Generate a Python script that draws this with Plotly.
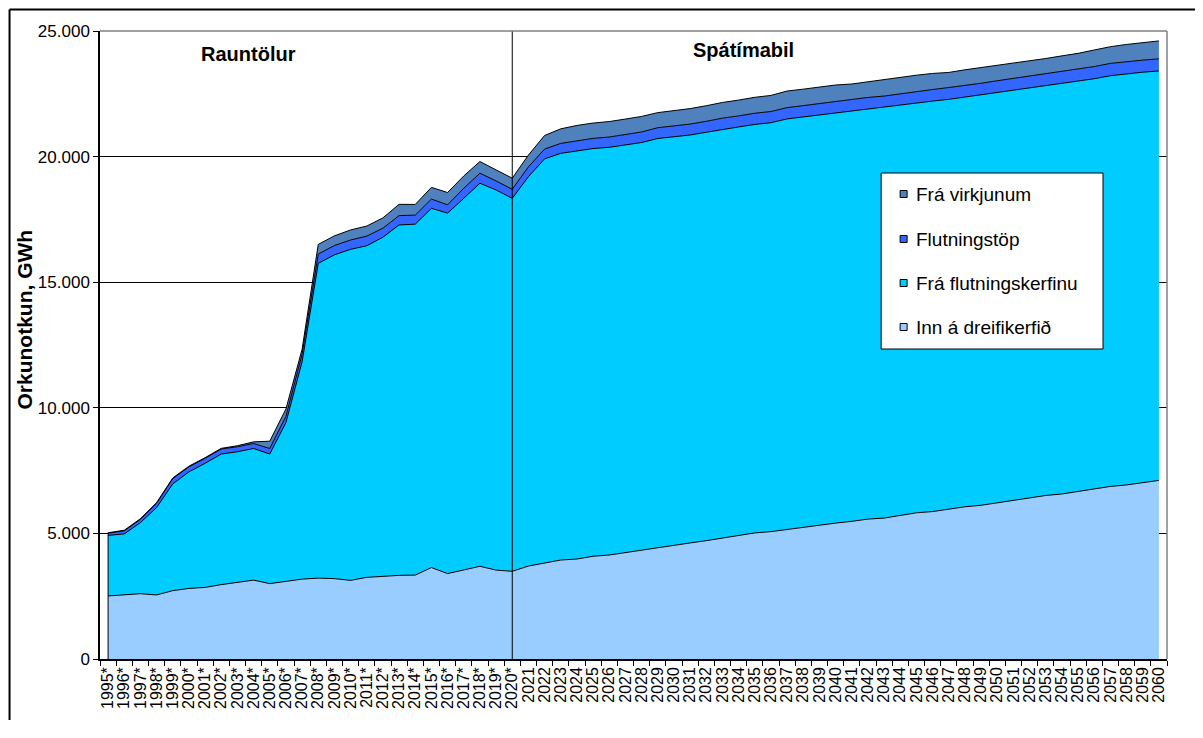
import plotly.graph_objects as go

# ---- data ----
years_actual = [f"{y}*" for y in range(1995, 2021)]
years_forecast = [str(y) for y in range(2021, 2061)]
categories = years_actual + years_forecast

inn_a_dreifikerfid = [
    2510, 2560, 2600, 2550, 2720, 2810, 2850, 2960, 3060, 3140, 3000, 3090, 3180,
    3220, 3200, 3130, 3250, 3290, 3330, 3340, 3640, 3400, 3560, 3690, 3540, 3490,
    3700, 3810, 3940, 3980, 4090, 4140, 4230, 4330, 4420, 4520, 4620, 4710, 4820,
    4920, 5020, 5070, 5160, 5230, 5320, 5410, 5480, 5570, 5610, 5720, 5820, 5870,
    5960, 6060, 6120, 6210, 6320, 6420, 6510, 6570, 6670, 6780, 6870, 6930, 7020, 7110]

fra_flutningskerfinu = [
    2410, 2420, 2830, 3480, 4250, 4640, 4940, 5200, 5190, 5240, 5160, 6320, 8650,
    12530, 12890, 13180, 13200, 13500, 13950, 13970, 14300, 14350, 14780, 15250, 15130, 14850,
    15500, 16100, 16190, 16260, 16230, 16230, 16230, 16230, 16300, 16270, 16240, 16260, 16270,
    16260, 16260, 16280, 16340, 16350, 16340, 16340, 16350, 16330, 16350, 16330, 16320, 16340,
    16320, 16310, 16350, 16350, 16330, 16320, 16320, 16340, 16310, 16320, 16350, 16370, 16340, 16300]

flutningstop = [
    90, 120, 130, 170, 210, 200, 200, 200, 200, 200, 220, 250, 300,
    370, 370, 370, 385, 360, 370, 360, 370, 330, 400, 400, 360, 360,
    390, 390, 395, 400, 405, 410, 415, 420, 430, 430, 435, 435, 440,
    440, 445, 445, 450, 450, 450, 455, 450, 455, 450, 455, 440, 460,
    470, 455, 450, 460, 465, 470, 475, 480, 490, 485, 490, 485, 480, 480]

fra_virkjunum = [
    15, 25, 25, 25, 25, 25, 25, 25, 40, 65, 290, 290, 200,
    385, 385, 400, 400, 410, 450, 425, 465, 490, 490, 465, 440, 440,
    470, 540, 580, 600, 610, 615, 620, 620, 600, 610, 615, 620, 625,
    630, 635, 640, 660, 655, 650, 645, 610, 630, 640, 640, 660, 640,
    600, 630, 620, 610, 600, 600, 600, 620, 640, 660, 665, 680, 700, 715]

series_names = ["Inn á dreifikerfið", "Frá flutningskerfinu", "Flutningstöp", "Frá virkjunum"]
series_values = [inn_a_dreifikerfid, fra_flutningskerfinu, flutningstop, fra_virkjunum]
series_colors = ["#99CCFF", "#00CCFF", "#3366FF", "#4F81BD"]

y_ticks = [0, 5000, 10000, 15000, 20000, 25000]
split_category = "2020*"

# ---- figure geometry (screen pixels; page body adds an 8px offset) ----
OFF = 8
W, H = 1203 - 2 * OFF, 738 - 2 * OFF - 10
PLOT_L, PLOT_R, PLOT_T, PLOT_B = 99.5, 1167, 31, 659  # screen coords
ML = PLOT_L - OFF
MT = PLOT_T - OFF
MR = W - (PLOT_R - OFF)
MB = H - (PLOT_B - OFF)
PW, PH = W - ML - MR, H - MT - MB
FONT = "Liberation Sans, Arial, sans-serif"
RIGHT_EDGE = OFF + W  # screen x of the figure's right edge


def px(xs):
    return (xs - PLOT_L) / PW


def py(ys):
    return (PLOT_B - ys) / PH


fig = go.Figure()
for name, vals, col in zip(series_names, series_values, series_colors):
    fig.add_trace(go.Scatter(
        x=categories, y=vals, name=name, mode="lines",
        stackgroup="one", fillcolor=col,
        line=dict(color="black", width=1),
        showlegend=False,
    ))

totals = [sum(v) for v in zip(*series_values)]

shapes = []
for idx in (0, len(categories) - 1):
    shapes.append(dict(type="line", xref="x", yref="y", x0=categories[idx], x1=categories[idx],
                       y0=0, y1=totals[idx], line=dict(color="black", width=1), layer="above"))
shapes.append(dict(type="line", xref="x", yref="y", x0=split_category, x1=split_category,
                   y0=0, y1=y_ticks[-1], line=dict(color="black", width=1), layer="above"))
shapes.append(dict(type="line", xref="paper", yref="paper", x0=0, x1=1, y0=1, y1=1,
                   line=dict(color="#808080", width=1.5)))
shapes.append(dict(type="line", xref="paper", yref="paper", x0=1, x1=1, y0=0, y1=1,
                   line=dict(color="#808080", width=1.5)))
# outer chart frame (left and top edges visible)
shapes.append(dict(type="line", xref="paper", yref="paper", x0=px(9), x1=px(9),
                   y0=py(OFF + H), y1=py(9.5), line=dict(color="black", width=2)))
shapes.append(dict(type="line", xref="paper", yref="paper", x0=px(9), x1=px(RIGHT_EDGE),
                   y0=py(9.5), y1=py(9.5), line=dict(color="black", width=2)))

# manual legend
leg_x0, leg_x1, leg_y0, leg_y1 = 881, 1103, 173, 349
shapes.append(dict(type="rect", xref="paper", yref="paper", x0=px(leg_x0), x1=px(leg_x1),
                   y0=py(leg_y1), y1=py(leg_y0), line=dict(color="black", width=1),
                   fillcolor="white", layer="above"))
legend_rows = [194, 239, 283, 327]
annotations = []
for yrow, name, col in zip(legend_rows, series_names[::-1], series_colors[::-1]):
    shapes.append(dict(type="rect", xref="paper", yref="paper", x0=px(900), x1=px(907),
                       y0=py(yrow + 3.5), y1=py(yrow - 3.5), line=dict(color="black", width=1),
                       fillcolor=col, layer="above"))
    annotations.append(dict(xref="paper", yref="paper", x=px(914), y=py(yrow), text=name,
                            showarrow=False, xanchor="left", yanchor="middle",
                            font=dict(family=FONT, size=19, color="black")))

annotations.append(dict(xref="paper", yref="paper", x=px(248), y=py(54), text="<b>Rauntölur</b>",
                        showarrow=False, xanchor="center", yanchor="middle",
                        font=dict(family=FONT, size=20, color="black")))
annotations.append(dict(xref="paper", yref="paper", x=px(743), y=py(50), text="<b>Spátímabil</b>",
                        showarrow=False, xanchor="center", yanchor="middle",
                        font=dict(family=FONT, size=20, color="black")))
annotations.append(dict(xref="paper", yref="paper", x=px(24), y=py(320), text="<b>Orkunotkun, GWh</b>",
                        showarrow=False, xanchor="center", yanchor="middle", textangle=-90,
                        font=dict(family=FONT, size=21, color="black")))

fig.update_layout(
    width=W, height=H,
    margin=dict(l=ML, r=MR, t=MT, b=MB, autoexpand=False),
    paper_bgcolor="white", plot_bgcolor="white",
    separators=",.",
    font=dict(family=FONT, color="black"),
    shapes=shapes, annotations=annotations,
    showlegend=False,
    xaxis=dict(
        type="category", categoryorder="array", categoryarray=categories,
        range=[-0.5, len(categories) - 0.5],
        tickmode="linear", dtick=1, tickson="boundaries",
        tickangle=-90, tickfont=dict(family=FONT, size=16, color="black"),
        ticks="outside", ticklen=5, tickcolor="black",
        showline=True, linecolor="black", linewidth=1.5,
        showgrid=False, zeroline=False,
    ),
    yaxis=dict(
        range=[0, y_ticks[-1]], tickmode="array", tickvals=y_ticks,
        tickformat=",d", tickfont=dict(family=FONT, size=17, color="black"),
        ticks="outside", ticklen=5, tickcolor="black",
        showline=True, linecolor="black", linewidth=1.5,
        showgrid=True, gridcolor="black", gridwidth=1,
        zeroline=False,
    ),
)

fig.write_html("out.html")
